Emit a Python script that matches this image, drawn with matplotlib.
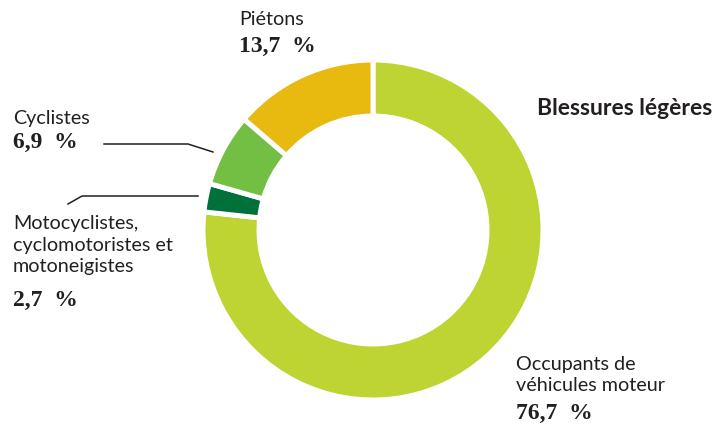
import matplotlib.pyplot as plt

# data
categories = ["Occupants de\nvéhicules moteur", "Motocyclistes,\ncyclomotoristes et\nmotoneigistes",
              "Cyclistes", "Piétons"]
shares = [76.7, 2.7, 6.9, 13.7]
pct_labels = ["76,7  %", "2,7  %", "6,9  %", "13,7  %"]
colors = ["#bdd432", "#00713a", "#72bf44", "#e8b90e"]
title = "Blessures légères"

W, H = 717, 428
fig = plt.figure(figsize=(W / 100, H / 100), dpi=100)
ax = fig.add_axes([0, 0, 1, 1])

cx, cy = 373, H - 230
r_out = 170
ring = 56

ax.pie(shares, colors=colors, startangle=90, counterclock=False,
       center=(cx, cy), radius=r_out, frame=True,
       wedgeprops=dict(width=ring, edgecolor="white", linewidth=3.6))
ax.set_xlim(0, W)
ax.set_ylim(0, H)
ax.set_aspect("equal")
ax.axis("off")

lab_font = dict(family="Lato", fontsize=14.2, color="#231f20")
pct_font = dict(family="Liberation Serif", fontsize=17, fontweight="bold", color="#231f20")


def px(x, y):
    return x, H - y


# Piétons
ax.text(*px(239, 19), categories[3], ha="left", va="center", **lab_font)
ax.text(*px(239, 46), pct_labels[3], ha="left", va="center", **pct_font)

# Cyclistes
ax.text(*px(13, 118), categories[2], ha="left", va="center", **lab_font)
ax.text(*px(13, 142), pct_labels[2], ha="left", va="center", **pct_font)
x0, y0 = px(104, 144)
x1, y1 = px(188, 144)
x2, y2 = px(213, 152)
ax.plot([x0, x1, x2], [y0, y1, y2], color="#231f20", lw=1.1)

# Motocyclistes
ax.text(*px(13, 245), categories[1], ha="left", va="center", linespacing=1.3, **lab_font)
ax.text(*px(13, 300), pct_labels[1], ha="left", va="center", **pct_font)
x0, y0 = px(68, 204)
x1, y1 = px(82, 196)
x2, y2 = px(198, 196)
ax.plot([x0, x1, x2], [y0, y1, y2], color="#231f20", lw=1.1)

# Occupants
ax.text(*px(516, 375), categories[0], ha="left", va="center", linespacing=1.3, **lab_font)
ax.text(*px(516, 413), pct_labels[0], ha="left", va="center", **pct_font)

# title
ax.text(*px(537, 108), title, ha="left", va="center", family="Lato",
        fontsize=16.5, fontweight="bold", color="#231f20")

fig.savefig("out.png", dpi=100)
